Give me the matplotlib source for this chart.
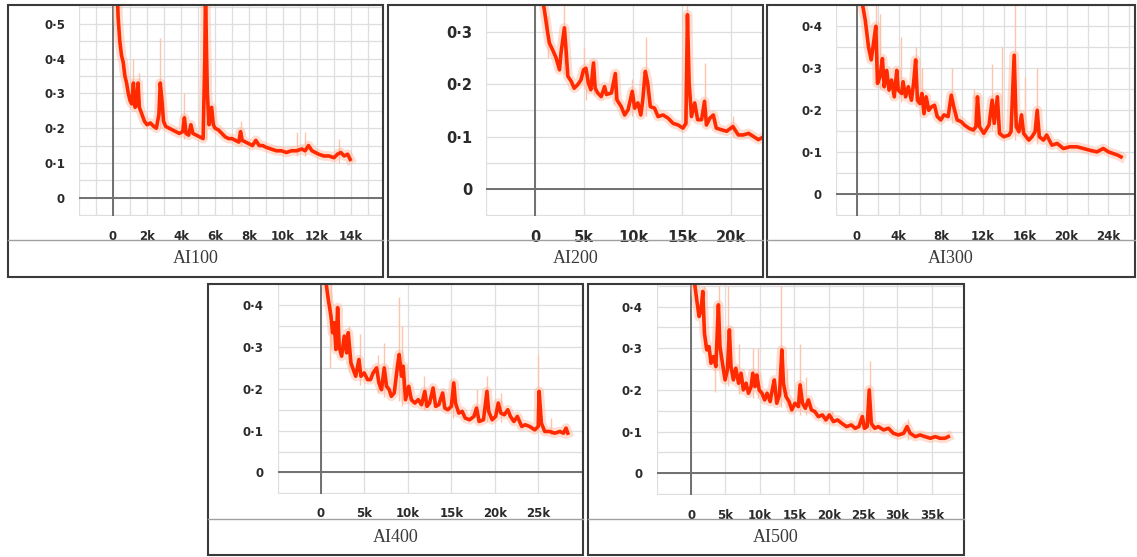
import matplotlib
matplotlib.use("Agg")
import matplotlib.pyplot as plt
from matplotlib.patches import Rectangle
from matplotlib.lines import Line2D

W, H = 1137, 557

# ---- data (steps in thousands, loss) ----
ai100_step = [0.25, 0.3, 0.4, 0.5, 0.6, 0.7, 0.8, 0.9, 1.0, 1.1, 1.2, 1.3, 1.4, 1.47, 1.55, 1.7, 1.85,
              2.0, 2.2, 2.4, 2.55, 2.7, 2.78, 2.88, 2.97, 3.1, 3.3, 3.5, 3.7, 3.9, 4.1, 4.2, 4.3, 4.45,
              4.58, 4.7, 4.9, 5.1, 5.3, 5.4, 5.44, 5.5, 5.55, 5.65, 5.8, 5.9, 6.0, 6.2, 6.4, 6.6, 6.8,
              7.0, 7.2, 7.4, 7.5, 7.6, 7.8, 8.0, 8.2, 8.4, 8.6, 8.8, 9.0, 9.3, 9.6, 9.9, 10.2, 10.5,
              10.8, 11.1, 11.3, 11.5, 11.7, 11.9, 12.1, 12.4, 12.7, 13.0, 13.2, 13.4, 13.6, 13.8, 13.95]
ai100_loss = [0.60, 0.52, 0.45, 0.41, 0.39, 0.35, 0.33, 0.30, 0.28, 0.27, 0.33, 0.26, 0.27, 0.33, 0.26,
              0.24, 0.22, 0.21, 0.215, 0.205, 0.20, 0.24, 0.33, 0.28, 0.22, 0.205, 0.20, 0.195, 0.19,
              0.185, 0.19, 0.23, 0.185, 0.18, 0.21, 0.185, 0.18, 0.175, 0.17, 0.40, 0.60, 0.42, 0.30,
              0.21, 0.26, 0.21, 0.20, 0.195, 0.185, 0.175, 0.17, 0.17, 0.165, 0.16, 0.19, 0.165, 0.16,
              0.155, 0.15, 0.165, 0.15, 0.15, 0.145, 0.14, 0.135, 0.135, 0.13, 0.135, 0.135, 0.14,
              0.135, 0.15, 0.135, 0.13, 0.125, 0.12, 0.12, 0.115, 0.125, 0.13, 0.12, 0.125, 0.11]
ai100_spike_step = [1.2, 1.5, 2.75, 4.2, 5.45, 7.5, 10.8, 11.3, 13.3]
ai100_spike_hi = [0.40, 0.36, 0.46, 0.30, 0.55, 0.22, 0.19, 0.19, 0.17]
ai100_spike_lo = [0.26, 0.25, 0.20, 0.17, 0.17, 0.15, 0.12, 0.12, 0.10]

ai200_step = [0.6, 0.95, 1.3, 1.47, 1.8, 2.15, 2.5, 2.66, 3.0, 3.17, 3.35, 3.7, 4.0, 4.37, 4.7, 4.95,
              5.2, 5.45, 5.7, 5.97, 6.14, 6.4, 6.76, 7.1, 7.3, 7.8, 8.2, 8.36, 8.8, 9.15, 9.5, 9.93,
              10.17, 10.5, 10.8, 11.0, 11.26, 11.5, 11.77, 12.2, 12.56, 13.07, 13.58, 14.1, 14.6, 15.1,
              15.4, 15.56, 15.73, 15.97, 16.3, 16.6, 17.0, 17.3, 17.5, 17.85, 18.2, 18.5, 19.0, 19.56,
              20.2, 20.75, 21.26, 21.8, 22.3, 22.8, 23.1]
ai200_loss = [0.38, 0.342, 0.297, 0.278, 0.265, 0.25, 0.227, 0.26, 0.307, 0.265, 0.215, 0.205, 0.192,
              0.199, 0.208, 0.227, 0.23, 0.202, 0.189, 0.24, 0.192, 0.183, 0.176, 0.195, 0.18, 0.183,
              0.22, 0.17, 0.157, 0.141, 0.151, 0.186, 0.154, 0.164, 0.141, 0.17, 0.224, 0.202, 0.157,
              0.154, 0.138, 0.141, 0.135, 0.125, 0.122, 0.116, 0.125, 0.332, 0.202, 0.138, 0.164, 0.132,
              0.132, 0.167, 0.122, 0.135, 0.141, 0.116, 0.113, 0.11, 0.119, 0.103, 0.103, 0.106, 0.10,
              0.094, 0.097]
ai200_spike_step = [1.3, 3.0, 5.0, 5.2, 6.0, 8.1, 9.9, 11.3, 15.5, 17.3, 20.2]
ai200_spike_hi = [0.33, 0.35, 0.27, 0.22, 0.245, 0.225, 0.21, 0.29, 0.35, 0.24, 0.14]
ai200_spike_lo = [0.25, 0.22, 0.19, 0.17, 0.18, 0.16, 0.14, 0.14, 0.12, 0.12, 0.10]

ai300_step = [0.47, 0.79, 1.1, 1.36, 1.58, 1.8, 1.96, 2.2, 2.43, 2.6, 2.84, 3.06, 3.3, 3.56, 3.8, 3.94,
              4.26, 4.4, 4.64, 4.9, 5.2, 5.4, 5.6, 5.77, 6.0, 6.2, 6.4, 6.6, 6.85, 7.1, 7.4, 7.66, 8.0,
              8.3, 8.7, 9.0, 9.24, 9.56, 9.94, 10.25, 10.7, 11.1, 11.36, 11.5, 11.7, 12.1, 12.6, 12.9,
              13.1, 13.4, 13.6, 14.0, 14.5, 14.7, 15.0, 15.2, 15.45, 15.7, 15.9, 16.4, 16.7, 17.0, 17.2,
              17.4, 17.8, 18.1, 18.6, 19.1, 19.7, 20.3, 21.0, 21.6, 22.2, 22.9, 23.5, 24.0, 24.45, 24.9,
              25.2]
ai300_loss = [0.46, 0.415, 0.351, 0.32, 0.36, 0.40, 0.264, 0.28, 0.323, 0.256, 0.295, 0.248, 0.272,
              0.232, 0.295, 0.248, 0.24, 0.268, 0.232, 0.256, 0.224, 0.264, 0.32, 0.224, 0.216, 0.24,
              0.192, 0.232, 0.20, 0.208, 0.212, 0.185, 0.177, 0.189, 0.185, 0.236, 0.208, 0.177, 0.173,
              0.165, 0.157, 0.153, 0.161, 0.232, 0.161, 0.145, 0.165, 0.224, 0.169, 0.232, 0.145, 0.137,
              0.141, 0.149, 0.331, 0.161, 0.149, 0.189, 0.145, 0.129, 0.137, 0.149, 0.20, 0.137, 0.129,
              0.141, 0.117, 0.121, 0.109, 0.113, 0.113, 0.109, 0.105, 0.101, 0.109, 0.101, 0.097, 0.093,
              0.089]
ai300_spike_step = [1.8, 2.2, 4.2, 5.6, 6.2, 9.1, 11.2, 12.9, 13.8, 15.1, 16.0, 17.2]
ai300_spike_hi = [0.45, 0.43, 0.375, 0.35, 0.30, 0.30, 0.25, 0.31, 0.35, 0.45, 0.28, 0.30]
ai300_spike_lo = [0.27, 0.25, 0.22, 0.21, 0.19, 0.17, 0.14, 0.15, 0.14, 0.13, 0.13, 0.12]

ai400_step = [0.54, 0.84, 1.15, 1.34, 1.53, 1.72, 1.92, 2.1, 2.38, 2.68, 2.95, 3.14, 3.45, 3.72, 4.0,
              4.37, 4.6, 4.98, 5.36, 5.7, 6.0, 6.4, 6.67, 6.97, 7.28, 7.55, 7.85, 8.1, 8.43, 8.8, 9.0,
              9.27, 9.46, 9.73, 10.1, 10.4, 10.8, 11.2, 11.57, 11.95, 12.2, 12.5, 12.9, 13.2, 13.56,
              14.0, 14.25, 14.6, 15.0, 15.28, 15.48, 15.86, 16.25, 16.6, 17.1, 17.6, 17.9, 18.2, 18.7,
              19.1, 19.3, 19.7, 20.1, 20.4, 20.7, 21.1, 21.5, 21.8, 22.2, 22.6, 23.1, 23.5, 24.0, 24.6,
              25.0, 25.1, 25.36, 25.75, 26.3, 26.9, 27.5, 27.9, 28.2, 28.4]
ai400_loss = [0.46, 0.414, 0.374, 0.334, 0.358, 0.294, 0.394, 0.30, 0.278, 0.326, 0.286, 0.334, 0.262,
              0.246, 0.23, 0.27, 0.23, 0.238, 0.222, 0.222, 0.238, 0.25, 0.214, 0.198, 0.25, 0.206,
              0.198, 0.182, 0.19, 0.254, 0.282, 0.23, 0.254, 0.174, 0.206, 0.174, 0.166, 0.174, 0.162,
              0.194, 0.158, 0.166, 0.202, 0.158, 0.162, 0.19, 0.154, 0.15, 0.158, 0.214, 0.166, 0.142,
              0.146, 0.13, 0.126, 0.134, 0.154, 0.122, 0.126, 0.194, 0.146, 0.126, 0.134, 0.166, 0.142,
              0.138, 0.15, 0.134, 0.122, 0.134, 0.11, 0.114, 0.11, 0.102, 0.11, 0.194, 0.118, 0.098,
              0.098, 0.094, 0.098, 0.094, 0.106, 0.094]
ai400_spike_step = [1.0, 1.2, 3.2, 4.5, 6.6, 7.2, 9.0, 9.3, 11.8, 15.2, 17.9, 19.1, 20.7, 25.0, 26.5]
ai400_spike_hi = [0.40, 0.45, 0.35, 0.33, 0.28, 0.31, 0.42, 0.35, 0.23, 0.22, 0.20, 0.23, 0.19, 0.28, 0.13]
ai400_spike_lo = [0.25, 0.30, 0.24, 0.21, 0.19, 0.18, 0.17, 0.16, 0.15, 0.13, 0.12, 0.12, 0.12, 0.10, 0.09]

ai500_step = [0.48, 0.82, 1.16, 1.45, 1.7, 1.94, 2.28, 2.6, 2.9, 3.25, 3.6, 3.97, 4.2, 4.56, 4.94, 5.28,
              5.57, 5.8, 6.15, 6.5, 6.9, 7.27, 7.6, 8.0, 8.34, 8.73, 8.97, 9.3, 9.55, 9.9, 10.3, 10.7,
              11.05, 11.5, 11.8, 12.1, 12.46, 12.85, 13.2, 13.43, 13.8, 14.25, 14.64, 15.1, 15.6, 15.85,
              16.2, 16.6, 17.06, 17.5, 18.0, 18.5, 19.1, 19.6, 20.1, 20.7, 21.3, 21.9, 22.6, 23.3, 23.85,
              24.4, 24.9, 25.2, 25.6, 25.9, 26.2, 26.7, 27.2, 28.0, 28.7, 29.4, 30.15, 30.9, 31.4, 31.85,
              32.6, 33.3, 34.0, 34.8, 35.5, 36.2, 36.9, 37.4]
ai500_loss = [0.46, 0.416, 0.376, 0.392, 0.436, 0.336, 0.296, 0.304, 0.264, 0.28, 0.256, 0.404, 0.304,
              0.264, 0.224, 0.248, 0.344, 0.256, 0.224, 0.252, 0.216, 0.24, 0.20, 0.216, 0.192, 0.208,
              0.24, 0.208, 0.236, 0.20, 0.192, 0.176, 0.192, 0.172, 0.20, 0.224, 0.168, 0.188, 0.296,
              0.216, 0.184, 0.172, 0.152, 0.168, 0.16, 0.212, 0.168, 0.156, 0.176, 0.152, 0.148, 0.136,
              0.14, 0.128, 0.14, 0.124, 0.128, 0.12, 0.112, 0.116, 0.108, 0.112, 0.136, 0.108, 0.112,
              0.20, 0.12, 0.108, 0.112, 0.104, 0.108, 0.096, 0.092, 0.096, 0.112, 0.096, 0.088, 0.092,
              0.088, 0.084, 0.088, 0.084, 0.084, 0.088]
ai500_spike_step = [1.9, 3.5, 4.0, 5.3, 6.9, 9.0, 9.7, 13.1, 13.9, 15.9, 16.7, 20.5, 26.0, 31.5]
ai500_spike_hi = [0.45, 0.30, 0.45, 0.45, 0.31, 0.30, 0.30, 0.45, 0.25, 0.31, 0.23, 0.15, 0.27, 0.13]
ai500_spike_lo = [0.30, 0.196, 0.25, 0.21, 0.19, 0.18, 0.18, 0.16, 0.16, 0.14, 0.14, 0.12, 0.10, 0.08]

names = ["AI100", "AI200", "AI300", "AI400", "AI500"]
steps = [ai100_step, ai200_step, ai300_step, ai400_step, ai500_step]
losses = [ai100_loss, ai200_loss, ai300_loss, ai400_loss, ai500_loss]
spike_steps = [ai100_spike_step, ai200_spike_step, ai300_spike_step, ai400_spike_step, ai500_spike_step]
spike_his = [ai100_spike_hi, ai200_spike_hi, ai300_spike_hi, ai400_spike_hi, ai500_spike_hi]
spike_los = [ai100_spike_lo, ai200_spike_lo, ai300_spike_lo, ai400_spike_lo, ai500_spike_lo]

xgrid_steps = [1, 5, 2, 5, 5]
xlabel_steps = [2, 5, 4, 5, 5]
xlabel_max = [14, 20, 24, 25, 35]
ylabel_max = [0.5, 0.3, 0.4, 0.4, 0.4]

# layout in pixels: box (x0, y0, x1, y1), caption line y, axes (left, top, right, bottom),
# xlim, ylim, tick font size
layout = [
    dict(box=(8, 5, 383, 277), cap=240, ax=(79, 5, 383, 216), xlim=(-2, 15.88), ylim=(-0.053, 0.555), fs=8.5),
    dict(box=(388, 5, 763, 277), cap=240, ax=(486, 5, 763, 216), xlim=(-5, 23.27), ylim=(-0.0514, 0.3505), fs=10.5),
    dict(box=(767, 5, 1135, 277), cap=240, ax=(836, 5, 1135, 216), xlim=(-2, 26.53), ylim=(-0.0517, 0.4507), fs=8.5),
    dict(box=(208, 284, 583, 555), cap=519, ax=(277.5, 284, 583, 493.5), xlim=(-5, 30.15), ylim=(-0.0502, 0.4505), fs=8.5),
    dict(box=(588, 284, 964, 555), cap=519, ax=(656.7, 284, 964, 495), xlim=(-5, 39.68), ylim=(-0.052, 0.454), fs=8.5),
]

fig = plt.figure(figsize=(W / 100, H / 100), dpi=100)
fig.patch.set_facecolor("white")


def fx(px):
    return px / W


def fy(py):
    return 1 - py / H


for i, lay in enumerate(layout):
    l, t, r, b = lay["ax"]
    ax = fig.add_axes([fx(l), fy(b), fx(r - l), (b - t) / H])
    ax.set_xlim(*lay["xlim"])
    ax.set_ylim(*lay["ylim"])
    for s in ax.spines.values():
        s.set_visible(False)

    g = xgrid_steps[i]
    k = int(lay["xlim"][0] // g)
    xt = []
    while k * g <= lay["xlim"][1]:
        xt.append(k * g)
        k += 1
    ax.set_xticks(xt)
    ax.set_xticklabels(["0" if v == 0 else (f"{v}k" if (v > 0 and v % xlabel_steps[i] == 0 and v <= xlabel_max[i]) else "")
                        for v in xt])
    yt = [j * 0.05 for j in range(-1, 12) if j * 0.05 <= lay["ylim"][1] + 1e-9]
    ax.set_yticks(yt)
    ax.set_yticklabels(["0" if abs(v) < 1e-9 else (f"{v:.1f}".replace(".", "\u00b7")
                        if (round(v * 100) % 10 == 0 and v > 0 and v <= ylabel_max[i] + 1e-9) else "")
                        for v in yt])
    ax.tick_params(length=0, labelsize=lay["fs"], labelcolor="#2a2a2a", pad=10)
    for lab in ax.get_xticklabels() + ax.get_yticklabels():
        lab.set_fontweight("bold")
    ax.grid(True, color="#dedede", linewidth=0.9)
    ax.set_axisbelow(True)
    ax.axhline(0, color="#707070", linewidth=1.4, zorder=1)
    ax.axvline(0, color="#707070", linewidth=1.4, zorder=1)

    ax.vlines(spike_steps[i], spike_los[i], spike_his[i], color="#ffc4ad", linewidth=1.0, zorder=2)
    ax.plot(steps[i], losses[i], color="#ffb59a", linewidth=7.0, alpha=0.45, zorder=2)
    ax.plot(steps[i], losses[i], color="#ff2a00", linewidth=2.6, zorder=3)

    # panel frame and caption
    x0, y0, x1, y1 = lay["box"]
    fig.add_artist(Rectangle((fx(x0), fy(y1)), fx(x1 - x0), (y1 - y0) / H, fill=False,
                             edgecolor="#3a3a3a", linewidth=1.5, transform=fig.transFigure))
    cy = lay["cap"]
    fig.add_artist(Line2D([fx(x0), fx(x1)], [fy(cy), fy(cy)], color="#a0a0a0", linewidth=1.0,
                          transform=fig.transFigure))
    fig.text(fx((x0 + x1) / 2), fy((cy + y1) / 2), names[i], ha="center", va="center",
             family="Liberation Serif", fontsize=13, color="#3a3a3a")

fig.savefig("out.png", dpi=100, facecolor="white")
